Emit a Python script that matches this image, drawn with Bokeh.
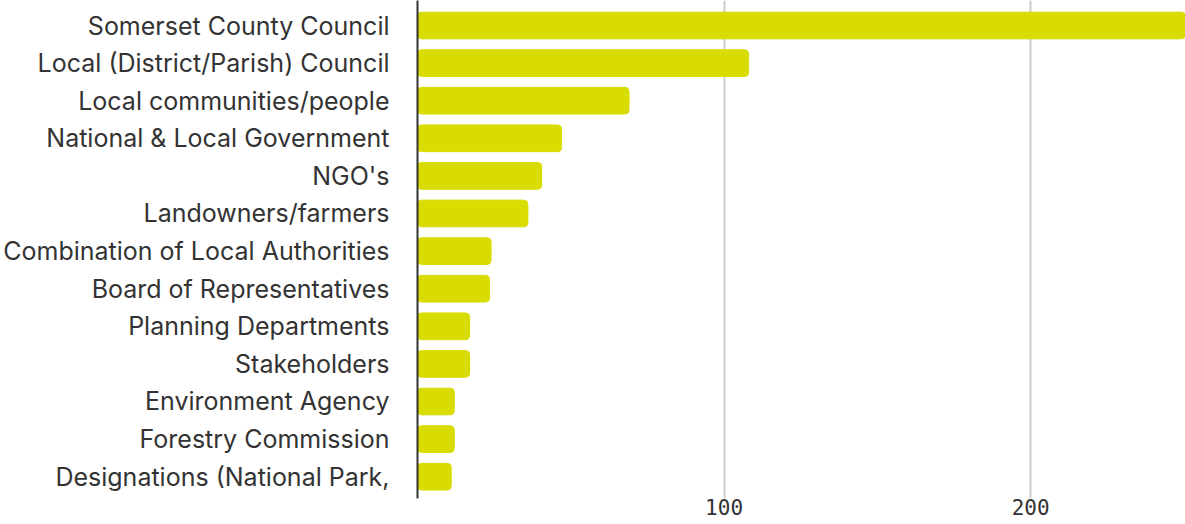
from bokeh.plotting import figure
from bokeh.models import Range1d, FixedTicker
from bokeh.embed import file_html
from bokeh.resources import INLINE

categories = [
    "Somerset County Council",
    "Local (District/Parish) Council",
    "Local communities/people",
    "National & Local Government",
    "NGO's",
    "Landowners/farmers",
    "Combination of Local Authorities",
    "Board of Representatives",
    "Planning Departments",
    "Stakeholders",
    "Environment Agency",
    "Forestry Commission",
    "Designations (National Park,",
]
values = [265, 108, 69, 47, 40.5, 36, 24, 23.5, 17, 17, 12, 12, 11]
x_ticks = [100, 200]

ys = list(range(len(categories)))

p = figure(width=1185, height=524, output_backend="svg", toolbar_location=None,
           x_range=Range1d(0, 250.5), y_range=Range1d(12.58, -0.665),
           min_border_left=417, min_border_right=0, min_border_top=0, min_border_bottom=26)
p.outline_line_color = None
p.background_fill_color = "white"
p.border_fill_color = "white"

p.hbar(y=ys, right=values, left=0, height=0.71, color="#d9dc00", border_radius=4)

# y axis
p.yaxis.ticker = FixedTicker(ticks=ys)
p.yaxis.major_label_overrides = {i: c for i, c in enumerate(categories)}
p.yaxis.major_label_text_font = "Inter"
p.yaxis.major_label_text_font_size = "25px"
p.yaxis.major_label_text_color = "#333333"
p.yaxis.major_label_standoff = 28
p.yaxis.major_tick_line_color = None
p.yaxis.major_tick_out = 0
p.yaxis.minor_tick_line_color = None
p.yaxis.axis_line_color = "#333333"
p.yaxis.axis_line_width = 2
p.ygrid.grid_line_color = None

# x axis
p.xaxis.ticker = FixedTicker(ticks=x_ticks)
p.xaxis.major_label_text_font = "DejaVu Sans Mono"
p.xaxis.major_label_text_font_size = "21px"
p.xaxis.major_label_text_color = "#333333"
p.xaxis.major_label_standoff = 0
p.xaxis.major_tick_line_color = None
p.xaxis.major_tick_out = 0
p.xaxis.major_tick_in = 0
p.xaxis.minor_tick_line_color = None
p.xaxis.minor_tick_out = 0
p.xaxis.axis_line_color = None
p.xgrid.ticker = FixedTicker(ticks=x_ticks)
p.xgrid.grid_line_color = "#cccccc"
p.xgrid.grid_line_width = 2

open("out.html", "w").write(file_html(p, INLINE))
